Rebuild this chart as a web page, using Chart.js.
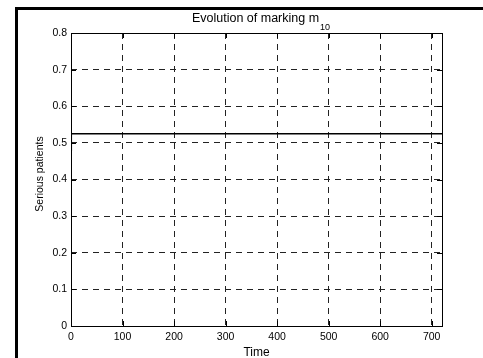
<!DOCTYPE html>
<html>
<head>
<meta charset="utf-8">
<script src="https://cdn.jsdelivr.net/npm/chart.js@4/dist/chart.umd.min.js"></script>
<style>
  html, body { margin: 0; padding: 0; background: #fff; }
  #wrap { width: 483px; height: 358px; position: relative; }
</style>
</head>
<body>
<div id="wrap"><canvas id="c" width="483" height="358"></canvas></div>
<script>
// ---- data ----
const times = [0, 0.5, 720];
const seriousPatients = [0.48, 0.525, 0.525];
const xTicks = [0, 100, 200, 300, 400, 500, 600, 700];
const yTicks = [0, 0.1, 0.2, 0.3, 0.4, 0.5, 0.6, 0.7, 0.8];
const titleMain = 'Evolution of marking m';
const titleSub = '10';
const xLabel = 'Time';
const yLabel = 'Serious patients';

const FONT = '"Liberation Sans", Arial, Helvetica, sans-serif';

const points = times.map((t, i) => ({ x: t, y: seriousPatients[i] }));

const decorPlugin = {
  id: 'decor',
  afterDraw(chart) {
    const ctx = chart.ctx;
    const a = chart.chartArea;
    const xs = chart.scales.x, ys = chart.scales.y;
    ctx.save();
    // outer figure frame (top & left)
    ctx.fillStyle = '#000';
    ctx.fillRect(15, 7, 468, 3);
    ctx.fillRect(15, 7, 3, 351);

    // axes box
    ctx.strokeStyle = '#000';
    ctx.lineWidth = 1;
    ctx.strokeRect(Math.round(a.left) + 0.5, Math.round(a.top) + 0.5,
                   Math.round(a.right - a.left), Math.round(a.bottom - a.top));

    // inward ticks
    const tl = 5;
    ctx.beginPath();
    xTicks.forEach(v => {
      const px = Math.round(xs.getPixelForValue(v)) + 0.5;
      ctx.moveTo(px, a.bottom); ctx.lineTo(px, a.bottom - tl);
      ctx.moveTo(px, a.top); ctx.lineTo(px, a.top + tl);
    });
    yTicks.forEach(v => {
      const py = Math.round(ys.getPixelForValue(v)) + 0.5;
      ctx.moveTo(a.left, py); ctx.lineTo(a.left + tl, py);
      ctx.moveTo(a.right, py); ctx.lineTo(a.right - tl, py);
    });
    ctx.stroke();

    // title with subscript
    ctx.fillStyle = '#000';
    ctx.textBaseline = 'alphabetic';
    ctx.font = '12.5px ' + FONT;
    const wMain = ctx.measureText(titleMain).width;
    ctx.font = '9px ' + FONT;
    const wSub = ctx.measureText(titleSub).width;
    const cx = (a.left + a.right) / 2 + 4;
    const start = cx - (wMain + wSub) / 2;
    ctx.textAlign = 'left';
    ctx.font = '12.5px ' + FONT;
    ctx.fillText(titleMain, start, 22);
    ctx.font = '9px ' + FONT;
    ctx.fillText(titleSub, start + wMain + 1, 30);

    // x label
    ctx.font = '12px ' + FONT;
    ctx.textAlign = 'center';
    ctx.fillText(xLabel, (a.left + a.right) / 2, 356);

    // y label
    ctx.translate(43, 174);
    ctx.rotate(-Math.PI / 2);
    ctx.font = '10.5px ' + FONT;
    ctx.textAlign = 'center';
    ctx.fillText(yLabel, 0, 0);
    ctx.restore();
  }
};

new Chart(document.getElementById('c'), {
  type: 'scatter',
  data: {
    datasets: [{
      data: points,
      showLine: true,
      borderColor: '#000',
      borderWidth: 1.6,
      pointRadius: 0,
      fill: false,
      tension: 0
    }]
  },
  options: {
    responsive: false,
    animation: false,
    events: [],
    layout: { padding: { left: 0, top: 33, right: 41, bottom: 0 } },
    plugins: { legend: { display: false }, tooltip: { enabled: false }, title: { display: false } },
    scales: {
      x: {
        type: 'linear',
        min: 0, max: 720,
        afterFit(s) { s.height = 32; },
        afterBuildTicks(s) { s.ticks = xTicks.map(v => ({ value: v })); },
        ticks: { color: '#000', font: { family: FONT, size: 10.5 }, padding: 5, maxRotation: 0, autoSkip: false },
        grid: { color: '#222', lineWidth: 1, drawTicks: false },
        border: { display: false, dash: [6, 5] }
      },
      y: {
        type: 'linear',
        min: 0, max: 0.8,
        afterFit(s) { s.width = 71; },
        afterBuildTicks(s) { s.ticks = yTicks.map(v => ({ value: v })); },
        ticks: {
          color: '#000', font: { family: FONT, size: 10.5 }, padding: 4, autoSkip: false,
          callback: v => String(+Number(v).toFixed(1))
        },
        grid: { color: '#222', lineWidth: 1, drawTicks: false },
        border: { display: false, dash: [6, 5] }
      }
    }
  },
  plugins: [decorPlugin]
});
</script>
</body>
</html>
